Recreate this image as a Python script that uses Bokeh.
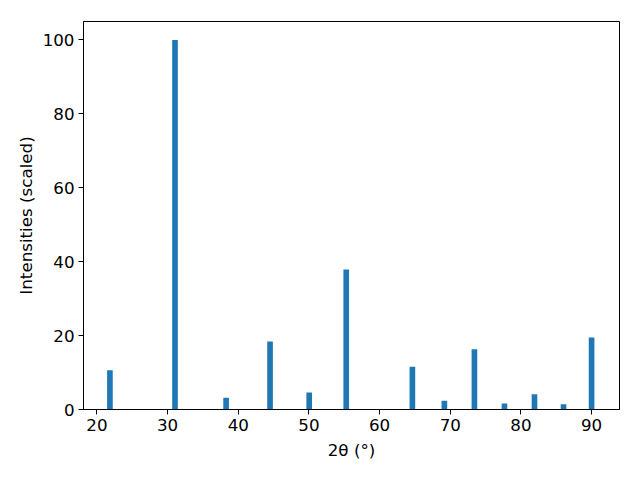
from bokeh.plotting import figure
from bokeh.models import Range1d, FixedTicker, ColumnDataSource
from bokeh.embed import file_html
from bokeh.resources import INLINE

two_theta = [21.84, 31.05, 38.28, 44.50, 50.04, 55.28, 64.64, 69.17, 73.42, 77.67, 81.92, 86.03, 90.00]
intensity = [10.6, 100.0, 3.2, 18.4, 4.6, 37.9, 11.6, 2.4, 16.3, 1.6, 4.1, 1.4, 19.5]
x_ticks = [20, 30, 40, 50, 60, 70, 80, 90]
y_ticks = [0, 20, 40, 60, 80, 100]

src = ColumnDataSource(dict(x=two_theta, top=intensity))

p = figure(width=640, height=480, output_backend="svg", toolbar_location=None,
           x_range=Range1d(18.1, 93.95), y_range=Range1d(0, 105),
           min_border_left=83, min_border_right=21, min_border_top=21, min_border_bottom=71)
p.vbar(x="x", top="top", bottom=0, width=0.8, source=src, fill_color="#1f77b4", line_color=None)

p.grid.visible = False
p.outline_line_color = "black"
p.outline_line_width = 1
p.background_fill_color = "white"
p.border_fill_color = "white"

p.xaxis.ticker = FixedTicker(ticks=x_ticks)
p.yaxis.ticker = FixedTicker(ticks=y_ticks)
for ax in (p.xaxis[0], p.yaxis[0]):
    ax.major_tick_in = 0
    ax.major_tick_out = 5
    ax.minor_tick_in = 0
    ax.minor_tick_out = 0
    ax.axis_line_color = "black"
    ax.major_tick_line_color = "black"
    ax.major_label_text_font = "DejaVu Sans"
    ax.major_label_text_font_size = "16.7px"
    ax.major_label_text_color = "black"
    ax.axis_label_text_font = "DejaVu Sans"
    ax.axis_label_text_font_size = "16.7px"
    ax.axis_label_text_font_style = "normal"
    ax.axis_label_text_color = "black"

p.xaxis.axis_label = "2θ (°)"
p.yaxis.axis_label = "Intensities (scaled)"
p.xaxis.major_label_standoff = 4
p.yaxis.major_label_standoff = 4
p.xaxis.axis_label_standoff = 6
p.yaxis.axis_label_standoff = 4

open("out.html", "w").write(file_html(p, INLINE))
